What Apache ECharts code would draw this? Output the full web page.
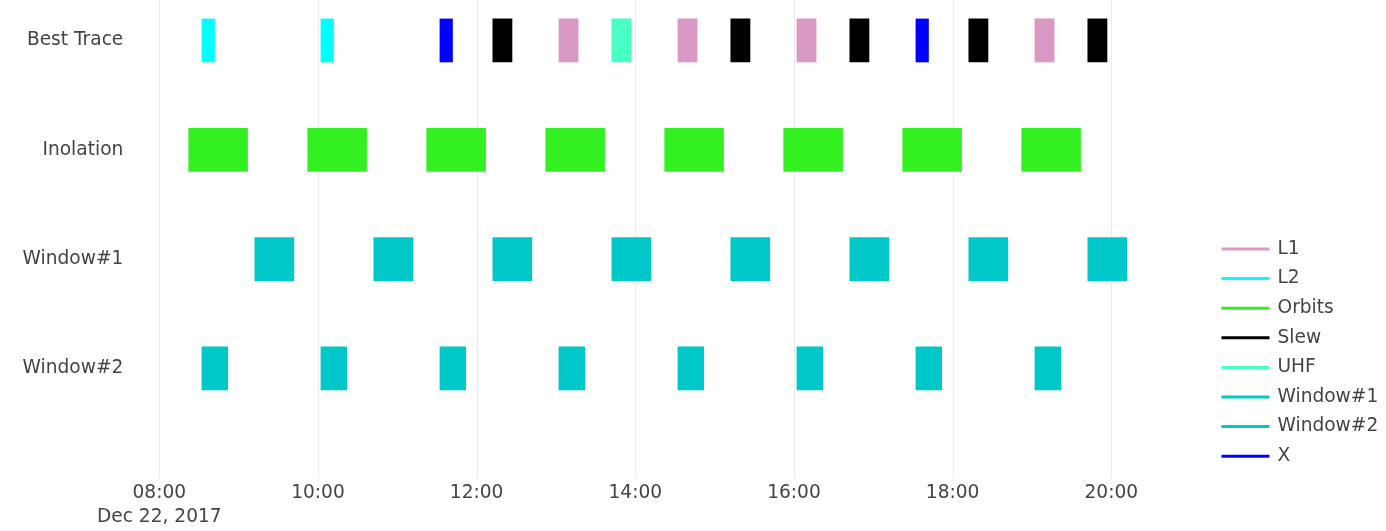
<!DOCTYPE html>
<html><head><meta charset="utf-8">
<script src="https://cdn.jsdelivr.net/npm/echarts@6/dist/echarts.min.js"></script>
<style>html,body{margin:0;padding:0;background:#fff}#c{width:1386px;height:531px}</style>
</head><body><div id="c"></div>
<script>
// ---- data ----
const rowNames = ['Best Trace', 'Inolation', 'Window#1', 'Window#2'];
const legendNames = ['L1', 'L2', 'Orbits', 'Slew', 'UHF', 'Window#1', 'Window#2', 'X'];
const legendColors = ['#DA98C4', '#00FFFF', '#33F121', '#000000', '#48FFC4', '#00C8C8', '#00C8C8', '#0000FF'];

const bestTraceResource = ['L2', 'L2', 'X', 'Slew', 'L1', 'UHF', 'L1', 'Slew', 'L1', 'Slew', 'X', 'Slew', 'L1', 'Slew'];
const bestTraceStart = ['08:32', '10:02', '11:32', '12:12', '13:02', '13:42', '14:32', '15:12', '16:02', '16:42', '17:32', '18:12', '19:02', '19:42'];
const bestTraceEnd   = ['08:42', '10:12', '11:42', '12:27', '13:17', '13:57', '14:47', '15:27', '16:17', '16:57', '17:42', '18:27', '19:17', '19:57'];

const inolationStart = ['08:22', '09:52', '11:22', '12:52', '14:22', '15:52', '17:22', '18:52'];
const inolationEnd   = ['09:07', '10:37', '12:07', '13:37', '15:07', '16:37', '18:07', '19:37'];

const window1Start = ['09:12', '10:42', '12:12', '13:42', '15:12', '16:42', '18:12', '19:42'];
const window1End   = ['09:42', '11:12', '12:42', '14:12', '15:42', '17:12', '18:42', '20:12'];

const window2Start = ['08:32', '10:02', '11:32', '13:02', '14:32', '16:02', '17:32', '19:02'];
const window2End   = ['08:52', '10:22', '11:52', '13:22', '14:52', '16:22', '17:52', '19:22'];

const xTickLabels = ['08:00', '10:00', '12:00', '14:00', '16:00', '18:00', '20:00'];
const dateLabel = 'Dec 22, 2017';
const axisStart = '08:00';
const axisEnd = '21:00';

// ---- helpers ----
function t(hm) {
  const p = hm.split(':');
  return Date.UTC(2017, 11, 22, +p[0], +p[1]);
}
const tickTimes = xTickLabels.map(t);
const tasks = [];
function addRow(rowIdx, resources, starts, ends) {
  starts.forEach((s, i) => tasks.push({ res: resources[i], y: 3 - rowIdx, s: t(s), e: t(ends[i]) }));
}
addRow(0, bestTraceResource, bestTraceStart, bestTraceEnd);
addRow(1, inolationStart.map(() => 'Orbits'), inolationStart, inolationEnd);
addRow(2, window1Start.map(() => 'Window#1'), window1Start, window1End);
addRow(3, window2Start.map(() => 'Window#2'), window2Start, window2End);

const FONT = 'DejaVu Sans';
const TXT = '#444';
const FS = 18.6;

function renderBar(params, api) {
  const y = api.value(2);
  const a = api.coord([api.value(0), y]);
  const b = api.coord([api.value(1), y]);
  const h = api.size([0, 0.4])[1];
  const rect = echarts.graphic.clipRectByRect(
    { x: a[0], y: a[1] - h / 2, width: b[0] - a[0], height: h },
    { x: params.coordSys.x, y: params.coordSys.y, width: params.coordSys.width, height: params.coordSys.height }
  );
  return rect && { type: 'rect', shape: rect, style: { fill: api.visual('color') } };
}

function renderGrid(params, api) {
  const x = Math.round(api.coord([api.value(0), 0])[0]) + 0.5;
  const cs = params.coordSys;
  return {
    type: 'line',
    shape: { x1: x, y1: cs.y, x2: x, y2: cs.y + cs.height },
    style: { stroke: '#ebebeb', lineWidth: 1 }
  };
}

const series = [{
  name: '__grid',
  type: 'custom',
  z: 0,
  silent: true,
  renderItem: renderGrid,
  encode: { x: 0, y: 1 },
  data: tickTimes.map(v => [v, 0])
}];
legendNames.forEach((n, i) => {
  series.push({
    name: n,
    type: 'custom',
    z: 2,
    renderItem: renderBar,
    itemStyle: { color: legendColors[i] },
    encode: { x: [0, 1], y: 2 },
    data: tasks.filter(k => k.res === n).map(k => [k.s, k.e, k.y])
  });
});

const chart = echarts.init(document.getElementById('c'), null, { renderer: 'canvas' });
chart.setOption({
  animation: false,
  backgroundColor: '#fff',
  grid: { left: 159.3, right: 195.4, top: 0, bottom: 53.2, containLabel: false, outerBoundsMode: 'none' },
  legend: {
    orient: 'vertical',
    left: 1221.5,
    top: 239,
    padding: 0,
    itemWidth: 48,
    itemHeight: 3,
    itemGap: 9.6,
    selectedMode: false,
    data: legendNames.map(n => ({ name: n, icon: 'rect' })),
    textStyle: { fontFamily: FONT, fontSize: FS, color: TXT, lineHeight: 20, padding: [0, 0, 0, 3] }
  },
  xAxis: {
    type: 'value',
    min: t(axisStart),
    max: t(axisEnd),
    interval: 2 * 3600 * 1000,
    axisLine: { show: false },
    axisTick: { show: false },
    splitLine: { show: false },
    axisLabel: {
      margin: 3,
      fontFamily: FONT,
      fontSize: FS,
      lineHeight: 24,
      color: TXT,
      hideOverlap: false,
      formatter: function (v) {
        const i = tickTimes.findIndex(x => Math.abs(x - v) < 1000);
        if (i < 0) return '';
        return i === 0 ? xTickLabels[0] + '\n' + dateLabel : xTickLabels[i];
      }
    }
  },
  yAxis: {
    type: 'value',
    min: -1,
    max: 3.37,
    interval: 1,
    axisLine: { show: false },
    axisTick: { show: false },
    splitLine: { show: false },
    axisLabel: {
      margin: 36,
      fontFamily: FONT,
      fontSize: FS,
      color: TXT,
      formatter: function (v) {
        const r = Math.round(v);
        if (Math.abs(v - r) > 1e-6 || r < 0 || r > 3) return '';
        return rowNames[3 - r];
      }
    }
  },
  series: series
});
</script>
</body></html>
